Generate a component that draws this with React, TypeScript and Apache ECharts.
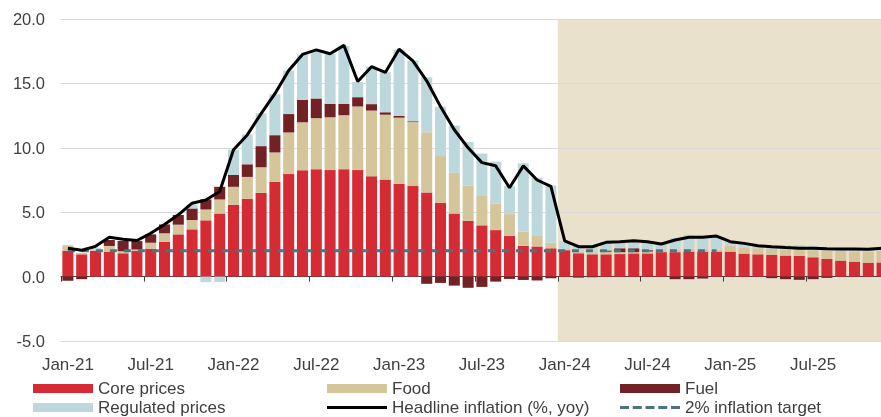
import React, { useEffect, useRef } from "react";
import * as echarts from "echarts";

const months = [
  "Jan-21","Feb-21","Mar-21","Apr-21","May-21","Jun-21","Jul-21","Aug-21","Sep-21","Oct-21","Nov-21","Dec-21",
  "Jan-22","Feb-22","Mar-22","Apr-22","May-22","Jun-22","Jul-22","Aug-22","Sep-22","Oct-22","Nov-22","Dec-22",
  "Jan-23","Feb-23","Mar-23","Apr-23","May-23","Jun-23","Jul-23","Aug-23","Sep-23","Oct-23","Nov-23","Dec-23",
  "Jan-24","Feb-24","Mar-24","Apr-24","May-24","Jun-24","Jul-24","Aug-24","Sep-24","Oct-24","Nov-24","Dec-24",
  "Jan-25","Feb-25","Mar-25","Apr-25","May-25","Jun-25","Jul-25","Aug-25","Sep-25","Oct-25","Nov-25","Dec-25",
];

const corePrices = [
  2.0, 1.73, 2.0, 1.94, 1.81, 2.0, 2.17, 2.71, 3.28, 3.67, 4.37, 4.9,
  5.58, 6.04, 6.5, 7.35, 7.96, 8.26, 8.34, 8.27, 8.34, 8.27, 7.79, 7.54,
  7.2, 7.03, 6.53, 5.73, 4.9, 4.34, 3.98, 3.61, 3.15, 2.4, 2.34, 2.2,
  2.05, 1.81, 1.73, 1.73, 1.75, 1.8, 1.8, 1.9, 1.9, 1.94, 1.94, 1.94,
  1.94, 1.78, 1.73, 1.68, 1.63, 1.6, 1.5, 1.37, 1.24, 1.16, 1.08, 1.1,
];

const food = [
  0.43, 0.1, 0.1, 0.44, 0.15, 0.1, 0.46, 0.65, 0.75, 0.72, 0.84, 1.09,
  1.39, 1.7, 1.99, 2.29, 3.23, 3.72, 3.96, 4.1, 4.19, 4.94, 5.1, 5.03,
  5.14, 4.97, 4.68, 3.63, 3.15, 2.73, 2.34, 2.07, 1.7, 1.1, 0.81, 0.43,
  0.1, 0.1, 0.15, 0.2, 0.15, 0.1, 0.15, 0.15, 0.2, 0.2, 0.2, 0.15,
  0.46, 0.49, 0.47, 0.46, 0.46, 0.5, 0.54, 0.67, 0.75, 0.8, 0.86, 0.9,
];

const fuel = [
  -0.33, -0.2, 0.0, 0.46, 0.8, 0.66, 0.65, 0.69, 0.75, 0.9, 0.78, 0.98,
  0.92, 0.98, 1.64, 1.34, 1.43, 1.73, 1.53, 1.05, 0.89, 0.72, 0.5, 0.19,
  0.13, 0.06, -0.56, -0.49, -0.7, -0.87, -0.8, -0.39, -0.18, -0.26, -0.3, -0.13,
  0.0, -0.08, -0.05, 0.1, 0.3, 0.3, 0.1, 0.0, -0.2, -0.2, -0.15, 0.0,
  0.0, 0.0, 0.0, -0.12, -0.2, -0.25, -0.2, -0.1, 0.0, 0.0, 0.0, 0.0,
];

const regulated = [
  0.0, 0.0, 0.15, 0.0, 0.0, 0.0, 0.0, 0.0, 0.0, 0.3, -0.43, -0.43,
  1.97, 2.32, 2.55, 3.18, 3.38, 3.52, 3.73, 3.85, 4.5, 1.17, 2.9, 3.11,
  5.16, 4.71, 4.27, 3.83, 3.67, 3.38, 3.23, 3.25, 2.2, 5.3, 4.52, 4.45,
  0.6, 0.45, 0.45, 0.6, 0.5, 0.6, 0.65, 0.5, 0.9, 1.1, 1.05, 1.05,
  0.33, 0.28, 0.2, 0.25, 0.35, 0.35, 0.35, 0.2, 0.15, 0.18, 0.15, 0.15,
];

const headline = [
  2.2, 2.05, 2.35, 3.05, 2.9, 2.8, 3.36, 4.05, 4.8, 5.7, 5.95, 6.6,
  9.85, 11.0, 12.65, 14.2, 16.0, 17.25, 17.6, 17.3, 17.95, 15.15, 16.3, 15.85,
  17.65, 16.75, 15.2, 13.2, 11.4, 10.0, 8.85, 8.6, 6.9, 8.6, 7.5, 7.0,
  2.78, 2.32, 2.32, 2.66, 2.71, 2.79, 2.71, 2.53, 2.84, 3.05, 3.05, 3.15,
  2.71, 2.58, 2.4, 2.32, 2.25, 2.2, 2.2, 2.17, 2.15, 2.15, 2.12, 2.2,
];

const target = [
  2, 2, 2, 2, 2, 2, 2, 2, 2, 2, 2, 2,
  2, 2, 2, 2, 2, 2, 2, 2, 2, 2, 2, 2,
  2, 2, 2, 2, 2, 2, 2, 2, 2, 2, 2, 2,
  2, 2, 2, 2, 2, 2, 2, 2, 2, 2, 2, 2,
  null, null, null, null, null, null, null, null, null, null, null, null,
];

const yTicks = { min: -5, max: 20, interval: 5 };
const forecastStart = "Jan-24";

const C_CORE = "#d52b34";
const C_FOOD = "#d4c59b";
const C_FUEL = "#722124";
const C_REG = "#bdd8dd";
const C_HEAD = "#000000";
const C_TARGET = "#4b7480";
const C_SHADE = "#e9e1cc";
const TXT = "#404040";
const FONT = "'Liberation Sans', Arial, sans-serif";

export default function App() {
  const ref = useRef<HTMLDivElement>(null);
  useEffect(() => {
    if (!ref.current) return;
    document.body.style.overflow = "hidden";
    const chart = echarts.init(ref.current, null, { renderer: "svg" });
    const textStyle = { color: TXT, fontSize: 17, fontFamily: FONT };
    const yTextStyle = { color: TXT, fontSize: 16.5, fontFamily: FONT };
    const legendBase = {
      padding: 0,
      itemWidth: 60,
      itemHeight: 9,
      icon: "rect",
      textStyle,
      selectedMode: false,
      itemStyle: { borderWidth: 0 },
    };
    const row1 = 380;
    const row2 = 399;
    const option: any = {
      animation: false,
      textStyle: { fontFamily: FONT },
      grid: { left: 61, right: 0, top: 19, bottom: 76 },
      legend: [
        { ...legendBase, data: ["Core prices"], left: 33, top: row1 },
        { ...legendBase, data: ["Food"], left: 327, top: row1 },
        { ...legendBase, data: ["Fuel"], left: 620, top: row1 },
        { ...legendBase, data: ["Regulated prices"], left: 33, top: row2 },
        { ...legendBase, data: ["Headline inflation (%, yoy)"], left: 327, top: row2, itemHeight: 3 },
        {
          ...legendBase,
          data: ["2% inflation target"],
          left: 620,
          top: row2,
          itemHeight: 3,
          icon: "path://M0,0h9v3h-9zM12.75,0h9v3h-9zM25.5,0h9v3h-9zM38.25,0h9v3h-9zM51,0h9v3h-9z",
        },
      ],
      xAxis: [
        {
          type: "category",
          data: months,
          position: "bottom",
          axisLine: { show: true, onZero: true, lineStyle: { color: TXT, width: 1 } },
          axisTick: { show: true, interval: 5, length: 5, lineStyle: { color: TXT } },
          axisLabel: { show: false },
          splitLine: { show: false },
        },
        {
          type: "category",
          data: months,
          position: "bottom",
          axisLine: { show: false, onZero: false },
          axisTick: { show: false },
          axisLabel: { interval: 5, margin: 15, ...textStyle },
          splitLine: { show: false },
        },
      ],
      yAxis: {
        type: "value",
        min: yTicks.min,
        max: yTicks.max,
        interval: yTicks.interval,
        axisLine: { show: false },
        axisTick: { show: false },
        axisLabel: { margin: 16, formatter: (v: number) => v.toFixed(1), ...yTextStyle },
        splitLine: { lineStyle: { color: "#d9d9d9", width: 1 } },
      },
      series: [
        { name: "Core prices", type: "bar", stack: "c", data: corePrices, barCategoryGap: "20%", itemStyle: { color: C_CORE }, z: 2 },
        { name: "Food", type: "bar", stack: "c", data: food, itemStyle: { color: C_FOOD }, z: 2 },
        { name: "Fuel", type: "bar", stack: "c", data: fuel, itemStyle: { color: C_FUEL }, z: 2 },
        { name: "Regulated prices", type: "bar", stack: "c", data: regulated, itemStyle: { color: C_REG }, z: 2 },
        {
          name: "Headline inflation (%, yoy)",
          type: "line",
          data: headline,
          symbol: "none",
          itemStyle: { color: C_HEAD },
          lineStyle: { color: C_HEAD, width: 3 },
          z: 5,
        },
        {
          name: "2% inflation target",
          type: "line",
          data: target,
          symbol: "none",
          itemStyle: { color: C_TARGET },
          lineStyle: { color: C_TARGET, width: 3, type: [7, 7] },
          z: 4,
        },
      ],
    };
    chart.setOption(option);

    const idx = months.indexOf(forecastStart);
    const xa = chart.convertToPixel({ xAxisIndex: 0 }, months[idx]) as number;
    const xb = chart.convertToPixel({ xAxisIndex: 0 }, months[idx + 1]) as number;
    const half = (xb - xa) / 2;
    const xEnd = (chart.convertToPixel({ xAxisIndex: 0 }, months[months.length - 1]) as number) + half;
    const yTop = chart.convertToPixel({ yAxisIndex: 0 }, yTicks.max) as number;
    const yBot = chart.convertToPixel({ yAxisIndex: 0 }, yTicks.min) as number;
    chart.setOption({
      graphic: [
        {
          type: "rect",
          z: -1,
          silent: true,
          shape: { x: xa - half, y: yTop, width: xEnd - (xa - half), height: yBot - yTop },
          style: { fill: C_SHADE },
        },
      ],
    });

    return () => chart.dispose();
  }, []);
  return <div ref={ref} style={{ position: "fixed", left: 0, top: 0, width: 889, height: 417 }} />;
}
